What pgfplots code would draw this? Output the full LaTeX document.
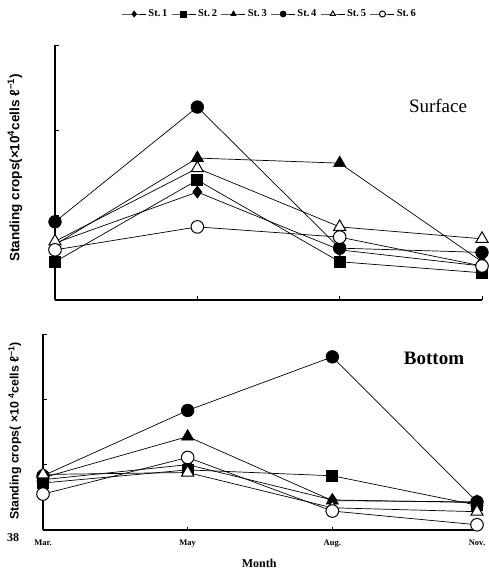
\documentclass[border=0pt]{standalone}
\usepackage{fontspec}
\setmainfont{Liberation Serif}
\newfontfamily\sansb{Liberation Sans}
\usepackage{pgfplots}
\pgfplotsset{compat=1.18}

\pgfplotstableread{
x  s1   s2   s3   s4   s5   s6
0  0.67 0.45 0.65 0.92 0.69 0.59
1  1.27 1.41 1.67 2.27 1.55 0.86
2  0.59 0.45 1.61 0.61 0.86 0.74
3  0.40 0.32 0.45 0.56 0.72 0.40
}\surf

\pgfplotstableread{
x  s1   s2   s3   s4   s5   s6
0  0.77 0.72 0.80 0.83 0.85 0.55
1  1.00 0.92 1.43 1.83 0.88 1.11
2  0.46 0.83 0.45 2.65 0.34 0.29
3  0.42 0.38 0.43 0.43 0.28 0.08
}\bott

\pgfplotsset{
  base/.style={scale only axis, xmin=0, xmax=3, ymin=0, ymax=3,
    axis lines=left, axis line style={-, line width=1.3pt},
    tick align=inside, major tick length=3.5pt,
    tick style={black, line width=0.9pt},
    xtick={1,2,3}, ytick={1,2,3}, yticklabels={},
    clip=false,
    every axis plot/.append style={black, line width=0.7pt},
    legend image code/.code={\draw[mark repeat=2,mark phase=2,##1] plot coordinates {(0pt,0pt) (12pt,0pt) (24pt,0pt)};},
  },
  s1/.style={mark=diamond*, mark size=6pt, mark options={fill=black}},
  s2/.style={mark=square*, mark size=5.5pt, mark options={fill=black}},
  s3/.style={mark=triangle*, mark size=7pt, mark options={fill=black}},
  s4/.style={mark=*, mark size=6.3pt, mark options={fill=black}},
  s5/.style={mark=triangle*, mark size=7pt, mark options={fill=white, draw=black, line width=1pt}},
  s6/.style={mark=*, mark size=6.3pt, mark options={fill=white, draw=black, line width=1pt}},
}

\begin{document}
\begin{tikzpicture}
\begin{axis}[base,
  at={(55pt,276pt)}, anchor=south west, width=427pt, height=255pt,
  xticklabels={},
  ylabel={\sansb\bfseries\fontsize{13.5}{14}\selectfont Standing crops(×10\textsuperscript{4}cells ℓ\textsuperscript{−1})},
  ylabel style={at={(axis description cs:-0.094,0.518)}, anchor=center},
  legend columns=6,
  legend style={at={(axis description cs:0.503,1.1216)}, anchor=center, draw=none, fill=none,
    font=\bfseries\fontsize{10.5}{11}\selectfont, inner sep=0pt,
    /tikz/every even column/.append style={column sep=2pt},
    legend image post style={mark size=3pt}},
]
\addplot[s1] table[x=x,y=s1] {\surf}; \addlegendentry{St.\,1}
\addplot[s2] table[x=x,y=s2] {\surf}; \addlegendentry{St.\,2}
\addplot[s3] table[x=x,y=s3] {\surf}; \addlegendentry{St.\,3}
\addplot[s4] table[x=x,y=s4] {\surf}; \addlegendentry{St.\,4}
\addplot[s5] table[x=x,y=s5] {\surf}; \addlegendentry{St.\,5}
\addplot[s6] table[x=x,y=s6] {\surf}; \addlegendentry{St.\,6}
\node[font=\fontsize{19}{20}\selectfont] at (axis description cs:0.897,0.761) {Surface};
\end{axis}

\begin{axis}[base,
  at={(43pt,46pt)}, anchor=south west, width=434pt, height=196pt,
  xtick={0,1,2,3}, xticklabels={Mar.,May,Aug.,Nov.},
  xticklabel style={font=\bfseries\fontsize{8.5}{9}\selectfont, yshift=-6pt},
  xlabel={Month},
  xlabel style={at={(axis description cs:0.498,-0.17)}, anchor=center, font=\bfseries\fontsize{12}{13}\selectfont},
  ylabel={\sansb\bfseries\fontsize{12.3}{13}\selectfont Standing crops( ×10 \textsuperscript{4}cells ℓ\textsuperscript{−1})},
  ylabel style={at={(axis description cs:-0.065,0.505)}, anchor=center},
]
\addplot[s1] table[x=x,y=s1] {\bott};
\addplot[s2] table[x=x,y=s2] {\bott};
\addplot[s3] table[x=x,y=s3] {\bott};
\addplot[s4] table[x=x,y=s4] {\bott};
\addplot[s5] table[x=x,y=s5] {\bott};
\addplot[s6] table[x=x,y=s6] {\bott};
\node[font=\bfseries\fontsize{19}{20}\selectfont] at (axis description cs:0.901,0.878) {Bottom};
\node[font=\bfseries\fontsize{12}{13}\selectfont] at (axis description cs:-0.069,-0.04) {38};
\end{axis}
\pgfresetboundingbox
\path[use as bounding box] (0,0) rectangle (488pt,576pt);
\end{tikzpicture}
\end{document}
